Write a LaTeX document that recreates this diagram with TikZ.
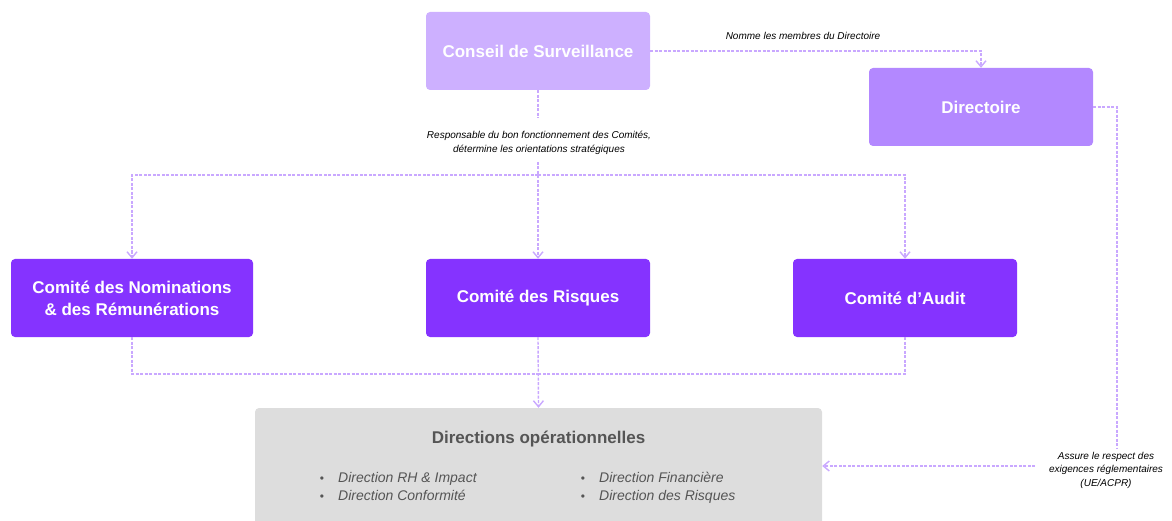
\documentclass[tikz,border=0pt]{standalone}
\usepackage{fontspec}
\setmainfont{Liberation Sans}
\usetikzlibrary{arrows.meta}
\definecolor{csfill}{HTML}{CDB0FF}
\definecolor{dirfill}{HTML}{B388FF}
\definecolor{comfill}{HTML}{8533FF}
\definecolor{opsfill}{HTML}{DDDDDD}
\definecolor{lnk}{HTML}{C9A8FF}
\definecolor{txtg}{HTML}{555555}
\begin{document}
\begin{tikzpicture}[x=1pt,y=-1pt,
  box/.style={rounded corners=4pt, text=white, font=\bfseries\fontsize{17}{22}\selectfont,
    align=center, inner sep=0pt, minimum height=78pt},
  link/.style={draw=lnk, line width=1.4pt, dash pattern=on 3pt off 1.5pt},
  arr/.style={-{Straight Barb[length=6pt,width=10pt,line width=1.4pt]}},
  lbl/.style={font=\itshape\fontsize{10}{13.5}\selectfont, align=center, text=black, inner sep=0pt},
  item/.style={font=\itshape\fontsize{14}{18}\selectfont, text=txtg, anchor=base west, inner sep=0pt},
  bul/.style={font=\fontsize{12}{14}\selectfont, text=txtg, anchor=base, inner sep=0pt}]
\useasboundingbox (0,0) rectangle (1172,521);

% boxes
\node[box, fill=csfill, minimum width=224pt] (cs) at (538,51) {Conseil de Surveillance};
\node[box, fill=dirfill, minimum width=224pt] (dir) at (981,107) {Directoire};
\node[box, fill=comfill, minimum width=242pt] (nr) at (132,298) {Comité des Nominations\\\& des Rémunérations};
\node[box, fill=comfill, minimum width=224pt] (ri) at (538,298) {Comité des Risques};
\node[box, fill=comfill, minimum width=224pt] (au) at (905,298) {Comité d’Audit};

% operational directions
\fill[opsfill, rounded corners=4pt] (255,521) -- (255,408) -- (822,408) -- (822,521);
\node[minimum width=567pt, minimum height=113pt, inner sep=0pt] (ops) at (538.5,464.5) {};
\node[font=\bfseries\fontsize{17}{20}\selectfont, text=txtg, anchor=base] (opst) at (538.5,443) {Directions opérationnelles};
\node[bul] (b1) at (322,482) {•};
\node[item] (i1) at (338,482) {Direction RH \& Impact};
\node[bul] (b2) at (322,500) {•};
\node[item] (i2) at (338,500) {Direction Conformité};
\node[bul] (b3) at (583,482) {•};
\node[item] (i3) at (599,482) {Direction Financière};
\node[bul] (b4) at (583,500) {•};
\node[item] (i4) at (599,500) {Direction des Risques};

% labels
\node[lbl] (l1) at (803,36) {Nomme les membres du Directoire};
\node[lbl] (l2) at (539,143) {Responsable du bon fonctionnement des Comités,\\détermine les orientations stratégiques};
\node[lbl] (l3) at (1106,470) {Assure le respect des\\exigences réglementaires\\(UE/ACPR)};

% coordinates
\coordinate (c1) at (538,118);
\coordinate (c2) at (538,162);
\coordinate (hb) at (538,175);
\coordinate (hb2) at (538,374);
\coordinate (c3) at (1117,449);
\coordinate (c4) at (1035,466);

% connectors
\draw[link, arr] (cs.east) -| (dir.north);
\draw[link] (cs.south) -- (c1);
\draw[link, arr] (c2) -- (ri.north);
\draw[link, arr] (hb) -| (nr.north);
\draw[link, arr] (hb) -| (au.north);
\draw[link] (nr.south) |- (hb2);
\draw[link] (au.south) |- (hb2);
\draw[link, arr] (ri.south) -- (ops.north);
\draw[link] (dir.east) -| (c3);
\draw[link, arr] (c4) -- (c4 -| ops.east);
\end{tikzpicture}
\end{document}
